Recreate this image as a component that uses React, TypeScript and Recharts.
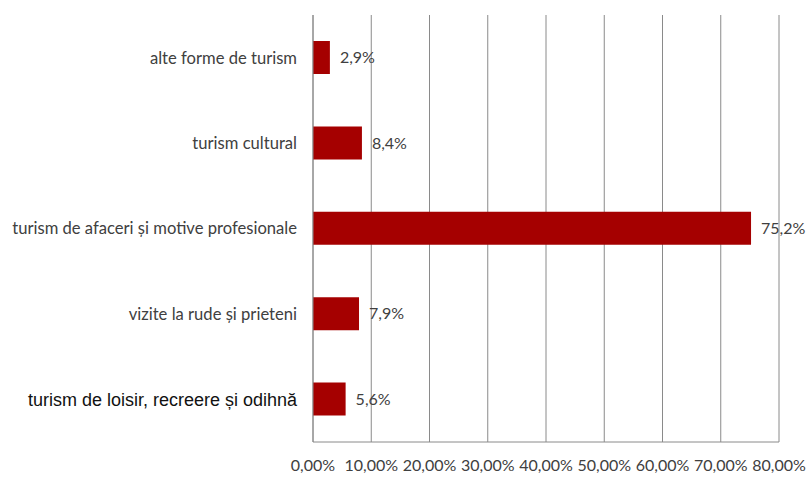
import { BarChart, Bar, XAxis, YAxis, CartesianGrid, LabelList } from "recharts";

// categorii, de sus in jos
const CATEGORII = [
  "alte forme de turism",
  "turism cultural",
  "turism de afaceri și motive profesionale",
  "vizite la rude și prieteni",
  "turism de loisir, recreere și odihnă",
];

// procente
const VALORI = [2.9, 8.4, 75.2, 7.9, 5.6];

const TICKS_X = [0, 10, 20, 30, 40, 50, 60, 70, 80];

const data = CATEGORII.map((c, i) => ({ categorie: c, valoare: VALORI[i] }));

const FONT = "Lato, sans-serif";

const fmtAxa = (v: number) => `${v.toFixed(2).replace(".", ",")}%`;
const fmtEticheta = (v: any) => `${Number(v).toFixed(1).replace(".", ",")}%`;

const CategoryTick = (props: any) => {
  const { x, y, payload } = props;
  const ultima = payload.value === CATEGORII[CATEGORII.length - 1];
  return (
    <text
      x={x}
      y={y}
      dy="0.35em"
      textAnchor="end"
      fill={ultima ? "#111" : "#404040"}
      fontFamily={ultima ? "Liberation Sans, Arial, sans-serif" : FONT}
      fontSize={ultima ? 18 : 16.6}
    >
      {payload.value}
    </text>
  );
};

export default function App() {
  return (
    <div style={{ position: "absolute", left: 0, top: 0, background: "#fff" }}>
      <BarChart
        width={810}
        height={479}
        data={data}
        layout="vertical"
        margin={{ top: 15, right: 31, bottom: 7, left: 0 }}
        barCategoryGap={0}
        style={{ overflow: "visible" }}
      >
        <CartesianGrid horizontal={false} stroke="#8a8a8a" />
        <XAxis
          type="number"
          domain={[0, 80]}
          ticks={TICKS_X}
          tickFormatter={fmtAxa}
          axisLine={{ stroke: "#8a8a8a" }}
          tickLine={false}
          tickSize={0}
          tickMargin={18}
          height={30}
          interval={0}
          tick={{ fill: "#404040", fontSize: 16, fontFamily: FONT }}
        />
        <YAxis
          type="category"
          dataKey="categorie"
          width={313}
          axisLine={{ stroke: "#8a8a8a" }}
          tickLine={false}
          tickSize={0}
          tickMargin={16}
          interval={0}
          tick={<CategoryTick />}
        />
        <Bar dataKey="valoare" fill="#a50000" barSize={33} isAnimationActive={false}>
          <LabelList
            dataKey="valoare"
            position="right"
            offset={10}
            formatter={fmtEticheta}
            fill="#404040"
            fontSize={16}
            fontFamily={FONT}
          />
        </Bar>
      </BarChart>
    </div>
  );
}
